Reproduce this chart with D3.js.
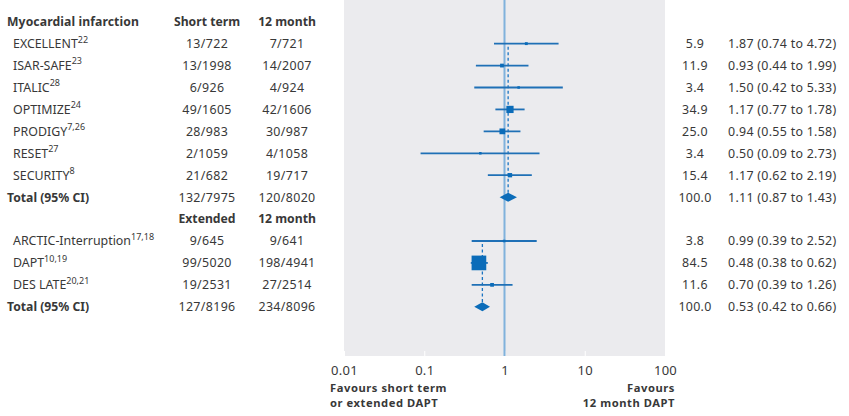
<!DOCTYPE html>
<html><head><meta charset="utf-8">
<script src="https://cdn.jsdelivr.net/npm/d3@7"></script>
<style>
html,body{margin:0;padding:0;background:#fff;}
svg{display:block;font-family:"Noto Sans",sans-serif;}
</style></head>
<body>
<svg id="c" width="849" height="416"></svg>
<script>
// ---- data ----
const groupATitle = "Myocardial infarction";
const groupAHeaders = ["Short term", "12 month"];
const studiesA = ["EXCELLENT", "ISAR-SAFE", "ITALIC", "OPTIMIZE", "PRODIGY", "RESET", "SECURITY"];
const refsA = ["22", "23", "28", "24", "7,26", "27", "8"];
const eventsShortA = ["13/722", "13/1998", "6/926", "49/1605", "28/983", "2/1059", "21/682"];
const events12A = ["7/721", "14/2007", "4/924", "42/1606", "30/987", "4/1058", "19/717"];
const weightA = [5.9, 11.9, 3.4, 34.9, 25.0, 3.4, 15.4];
const rrA = [1.87, 0.93, 1.50, 1.17, 0.94, 0.50, 1.17];
const loA = [0.74, 0.44, 0.42, 0.77, 0.55, 0.09, 0.62];
const hiA = [4.72, 1.99, 5.33, 1.78, 1.58, 2.73, 2.19];
const totalA = {events1: "132/7975", events2: "120/8020", weight: 100.0, rr: 1.11, lo: 0.87, hi: 1.43};

const groupBHeaders = ["Extended", "12 month"];
const studiesB = ["ARCTIC-Interruption", "DAPT", "DES LATE"];
const refsB = ["17,18", "10,19", "20,21"];
const eventsExtB = ["9/645", "99/5020", "19/2531"];
const events12B = ["9/641", "198/4941", "27/2514"];
const weightB = [3.8, 84.5, 11.6];
const rrB = [0.99, 0.48, 0.70];
const loB = [0.39, 0.38, 0.39];
const hiB = [2.52, 0.62, 1.26];
const totalB = {events1: "127/8196", events2: "234/8096", weight: 100.0, rr: 0.53, lo: 0.42, hi: 0.66};

const tickValues = [0.01, 0.1, 1, 10, 100];
const tickLabels = ["0.01", "0.1", "1", "10", "100"];
const leftAxisLabel = ["Favours short term", "or extended DAPT"];
const rightAxisLabel = ["Favours", "12 month DAPT"];

// ---- layout ----
const svg = d3.select("#c");
const textCol = "#383838";
const markCol = "#0b6cb9";
const lineCol = "#1f70b6";
const refCol = "#80b2dc";
const panelTop = 0, panelBottom = 356;
const x = d3.scaleLog().domain([0.01, 100]).range([344, 665]);
const rowY = i => 21.7 + i * 21.93;
const fs = 12.4;
const fsB = 12.2;
const col1 = 207, col2 = 287, colW = 695, colRR = 728;
const fmt = d3.format(".2f"), fmtW = d3.format(".1f");

// panel
svg.append("rect").attr("x", x(0.01)).attr("y", panelTop)
  .attr("width", x(100) - x(0.01)).attr("height", panelBottom - panelTop)
  .attr("fill", "#ebebee");

// axis
const axis = d3.axisBottom(x).tickValues(tickValues)
  .tickFormat((d, i) => tickLabels[i]).tickSize(0).tickPadding(10);
const ag = svg.append("g").attr("transform", `translate(0,${panelBottom})`).call(axis);
ag.select(".domain").remove();
ag.selectAll("text").attr("fill", textCol).attr("font-size", 13).attr("letter-spacing", 0.3)
  .attr("font-family", "'Noto Sans', sans-serif");
ag.selectAll(".tick").append("line").attr("y1", -5).attr("y2", 0).attr("stroke", "#fff").attr("stroke-width", 1);

// reference line
svg.append("line").attr("x1", x(1)).attr("x2", x(1)).attr("y1", panelTop).attr("y2", panelBottom)
  .attr("stroke", refCol).attr("stroke-width", 2);

function txt(xp, y, s, opts = {}) {
  const t = svg.append("text").attr("x", xp).attr("y", y + 4.4)
    .attr("fill", textCol).attr("font-size", opts.bold ? fsB : fs)
    .attr("font-weight", opts.bold ? "bold" : "normal")
    .attr("letter-spacing", opts.ls || 0)
    .attr("text-anchor", opts.anchor || "start").text(s);
  return t;
}
function nameWithSup(xp, y, name, sup) {
  const t = svg.append("text").attr("x", xp).attr("y", y + 4.4)
    .attr("fill", textCol).attr("font-size", fs);
  t.append("tspan").text(name);
  t.append("tspan").attr("dy", -5.5).attr("font-size", 9).text(sup);
}

function group(startRow, title, headers, names, refs, e1, e2, w, rr, lo, hi, total) {
  if (title) txt(7, rowY(startRow), title, {bold: true, ls: 0.1});
  txt(col1, rowY(startRow), headers[0], {bold: true, anchor: "middle"});
  txt(col2, rowY(startRow), headers[1], {bold: true, anchor: "middle"});
  const totRow = startRow + names.length + 1;
  svg.append("line").attr("x1", x(total.rr)).attr("x2", x(total.rr))
    .attr("y1", rowY(startRow + 1) + 3).attr("y2", rowY(totRow))
    .attr("stroke", "#1a74c2").attr("stroke-width", 1.3).attr("stroke-dasharray", "3,2.5");
  names.forEach((n, i) => {
    const y = rowY(startRow + 1 + i);
    nameWithSup(13, y, n, refs[i]);
    txt(col1, y, e1[i], {anchor: "middle", ls: 0.35});
    txt(col2, y, e2[i], {anchor: "middle", ls: 0.35});
    txt(colW, y, fmtW(w[i]), {anchor: "middle", ls: 0.3});
    txt(colRR, y, `${fmt(rr[i])} (${fmt(lo[i])} to ${fmt(hi[i])})`, {ls: 0.3});
    svg.append("line").attr("x1", x(lo[i])).attr("x2", x(hi[i])).attr("y1", y).attr("y2", y)
      .attr("stroke", lineCol).attr("stroke-width", 1.8);
    const s = 2 + 0.15 * w[i];
    svg.append("rect").attr("x", x(rr[i]) - s / 2).attr("y", y - s / 2)
      .attr("width", s).attr("height", s).attr("fill", markCol);
  });
  const ty = rowY(totRow);
  txt(7, ty, "Total (95% CI)", {bold: true});
  txt(col1, ty, total.events1, {anchor: "middle", ls: 0.35});
  txt(col2, ty, total.events2, {anchor: "middle", ls: 0.35});
  txt(colW, ty, fmtW(total.weight), {anchor: "middle", ls: 0.3});
  txt(colRR, ty, `${fmt(total.rr)} (${fmt(total.lo)} to ${fmt(total.hi)})`, {ls: 0.3});
  const d = [[x(total.lo), ty], [x(total.rr), ty - 4.5], [x(total.hi), ty], [x(total.rr), ty + 4.5]];
  svg.append("path").attr("d", "M" + d.join("L") + "Z").attr("fill", markCol);
}

group(0, groupATitle, groupAHeaders, studiesA, refsA, eventsShortA, events12A, weightA, rrA, loA, hiA, totalA);
group(9, null, groupBHeaders, studiesB, refsB, eventsExtB, events12B, weightB, rrB, loB, hiB, totalB);

// axis labels
leftAxisLabel.forEach((s, i) => svg.append("text").attr("x", 330).attr("y", 391.5 + i * 15.3)
  .attr("fill", textCol).attr("font-size", 11.2).attr("letter-spacing", 0.55)
  .attr("font-weight", "bold").text(s));
rightAxisLabel.forEach((s, i) => svg.append("text").attr("x", 675).attr("y", 391.5 + i * 15.3)
  .attr("text-anchor", "end").attr("fill", textCol).attr("font-size", 11.2).attr("letter-spacing", 0.55)
  .attr("font-weight", "bold").text(s));
</script>
</body></html>
